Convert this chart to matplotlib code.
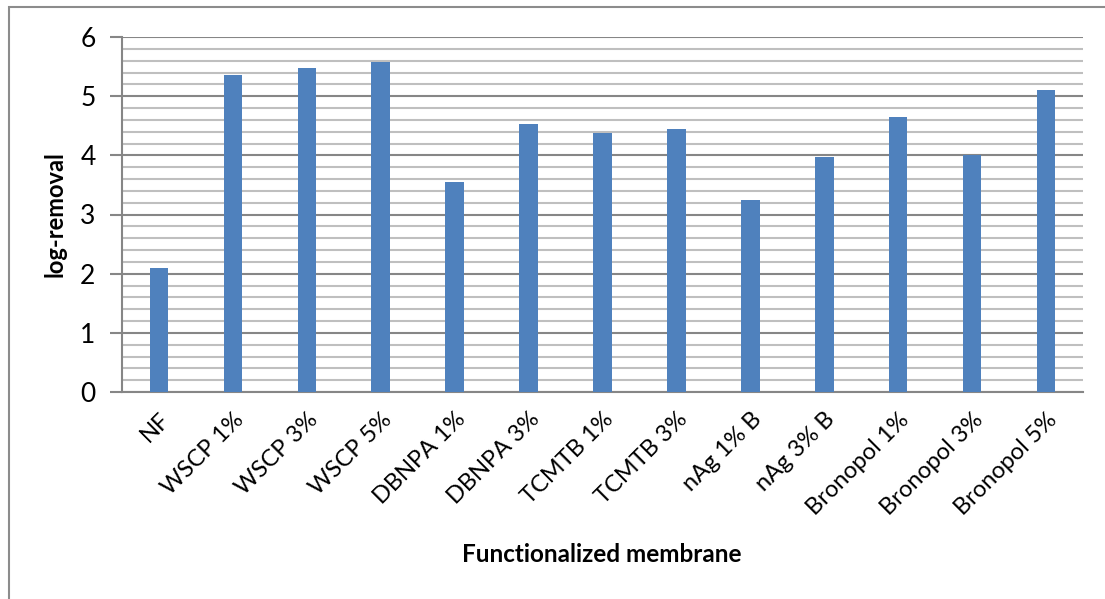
import numpy as np
import matplotlib.pyplot as plt
from matplotlib.patches import Rectangle
from matplotlib.ticker import MultipleLocator

membranes = ["NF", "WSCP 1%", "WSCP 3%", "WSCP 5%", "DBNPA 1%", "DBNPA 3%",
             "TCMTB 1%", "TCMTB 3%", "nAg 1% B", "nAg 3% B",
             "Bronopol 1%", "Bronopol 3%", "Bronopol 5%"]
log_removal = [2.10, 5.36, 5.48, 5.58, 3.55, 4.53, 4.37, 4.44, 3.24, 3.97,
               4.65, 4.00, 5.10]

plt.rcParams['font.family'] = ['Lato', 'DejaVu Sans']

fig = plt.figure(figsize=(11.05, 5.99), dpi=100)
ax = fig.add_axes([122 / 1105, 1 - 392 / 599, (1083 - 122) / 1105, (392 - 37) / 599])

# outer chart border (cropped on the right and bottom)
fig.patches.append(Rectangle((9 / 1105, -0.1), 1.2, 1 - 7 / 599 + 0.1,
                             transform=fig.transFigure, fill=False,
                             edgecolor='#8c8c8c', linewidth=1.5))

x = np.arange(len(membranes))
ax.bar(x, log_removal, width=0.25, color='#4F81BD', zorder=3)

ax.set_xlim(-0.5, len(membranes) - 0.5)
ax.set_ylim(0, 6)
ax.yaxis.set_major_locator(MultipleLocator(1))
ax.yaxis.set_minor_locator(MultipleLocator(0.2))
ax.grid(axis='y', which='minor', color='#bfbfbf', linewidth=1.5, zorder=0)
ax.grid(axis='y', which='major', color='#868686', linewidth=1.5, zorder=1)

for s in ['top', 'right']:
    ax.spines[s].set_visible(False)
ax.spines['left'].set_color('#868686')
ax.spines['bottom'].set_color('#868686')
ax.spines['left'].set_linewidth(1.5)
ax.spines['bottom'].set_linewidth(1.5)

ax.tick_params(axis='y', which='major', length=9, width=1.5, color='#868686',
               labelsize=19, pad=10)
ax.tick_params(axis='y', which='minor', length=0)
ax.tick_params(axis='x', length=0, labelsize=17, pad=12)
ax.set_xticks(x)
ax.set_xticklabels(membranes, rotation=45, ha='right', rotation_mode='anchor')

ax.set_ylabel('log-removal', fontsize=17, fontweight='bold', labelpad=10)
fig.text(602 / 1105, 1 - 555 / 599, 'Functionalized membrane', fontsize=17.5,
         fontweight='bold', ha='center', va='center')

fig.savefig('out.png', dpi=100)
